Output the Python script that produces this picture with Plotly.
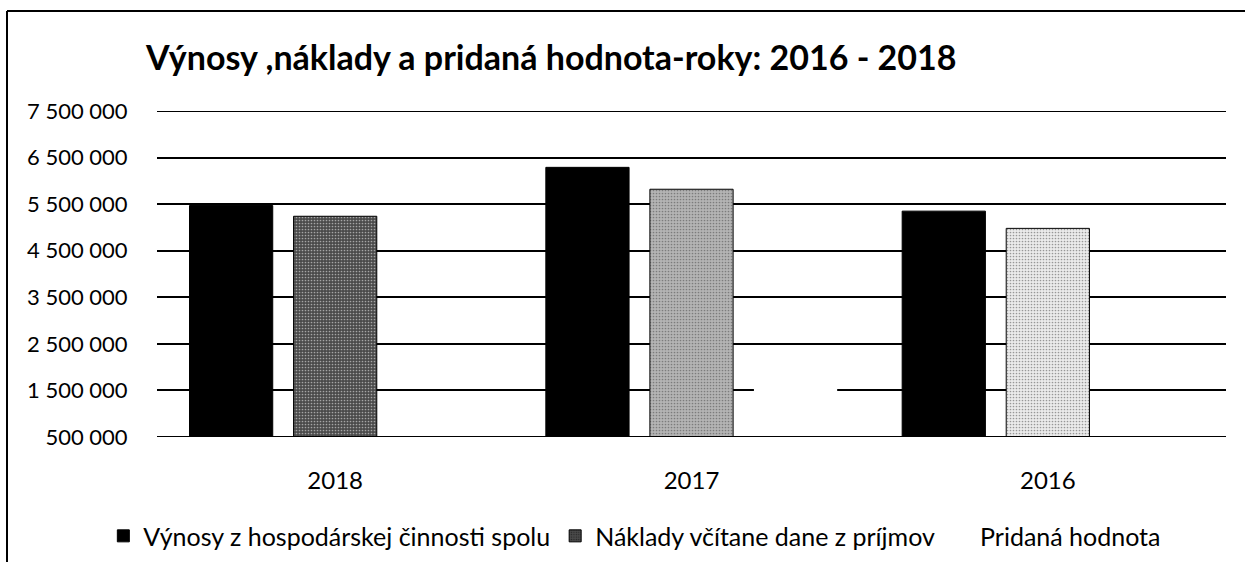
import plotly.graph_objects as go

years = ["2018", "2017", "2016"]
vynosy = [5470000, 6290000, 5350000]
naklady = [5240000, 5820000, 4980000]
pridana = [1200000, 1750000, 1300000]
naklady_shade = ["#4a4a4a", "#b4b4b4", "#ebebeb"]
y_min, y_max, y_step = 500000, 7500000, 1000000

series_names = [
    "Výnosy z hospodárskej činnosti spolu",
    "Náklady včítane dane z príjmov",
    "Pridaná hodnota",
]
title_text = "Výnosy ,náklady a pridaná hodnota-roky: 2016 - 2018"
font_family = "Lato, 'Noto Sans', sans-serif"

fig = go.Figure()
fig.add_trace(go.Bar(
    x=years, y=vynosy, name=series_names[0],
    marker=dict(color="black", line=dict(color="black", width=1)),
))
fig.add_trace(go.Bar(
    x=years, y=naklady, name=series_names[1],
    marker=dict(
        color=naklady_shade,
        line=dict(color="black", width=1),
        pattern=dict(shape=".", fgcolor="black", size=3, solidity=0.25,
                     fillmode="overlay"),
    ),
))
fig.add_trace(go.Bar(
    x=years, y=pridana, name=series_names[2],
    marker=dict(color="white", line=dict(color="white", width=0)),
))

edge_lines = [
    dict(type="line", xref="paper", yref="y", x0=0, x1=1, y0=v, y1=v,
         line=dict(color="black", width=2), layer="above")
    for v in (y_min, y_max)
]

fig.update_layout(
    width=1245, height=562,
    paper_bgcolor="white", plot_bgcolor="white",
    margin=dict(l=157, r=19, t=111, b=125, autoexpand=False),
    barmode="group", bargap=0.124, bargroupgap=0.2,
    separators=". ",
    font=dict(family=font_family, size=22, color="black"),
    title=dict(text=title_text, x=146 / 1245, xanchor="left",
               y=1 - 58 / 562, yanchor="middle",
               font=dict(family=font_family, size=34, color="black", weight="bold")),
    showlegend=True,
    legend=dict(orientation="h", x=0.447, xanchor="center",
                xref="paper", y=-0.304, yanchor="middle",
                font=dict(size=25), itemwidth=30, traceorder="normal"),
    shapes=[
        dict(type="line", xref="paper", yref="paper", x0=-150 / 1069, x1=1.02,
             y0=1 + 100 / 326, y1=1 + 100 / 326, line=dict(color="black", width=2)),
        dict(type="line", xref="paper", yref="paper", x0=-150 / 1069, x1=-150 / 1069,
             y0=1 + 100 / 326, y1=-0.4, line=dict(color="black", width=2)),
    ] + edge_lines,
)
fig.update_yaxes(
    range=[y_min, y_max], tick0=y_min, dtick=y_step,
    tickformat=",d", showgrid=True, gridcolor="black", gridwidth=2,
    zeroline=False, ticks="outside", ticklen=24, tickcolor="white",
    tickfont=dict(size=22),
)
fig.update_xaxes(
    ticks="outside", ticklen=22, tickcolor="white",
    tickfont=dict(size=24),
)

fig.write_html("out.html", post_script="document.body.style.margin='0';",
               config={"displayModeBar": False})
